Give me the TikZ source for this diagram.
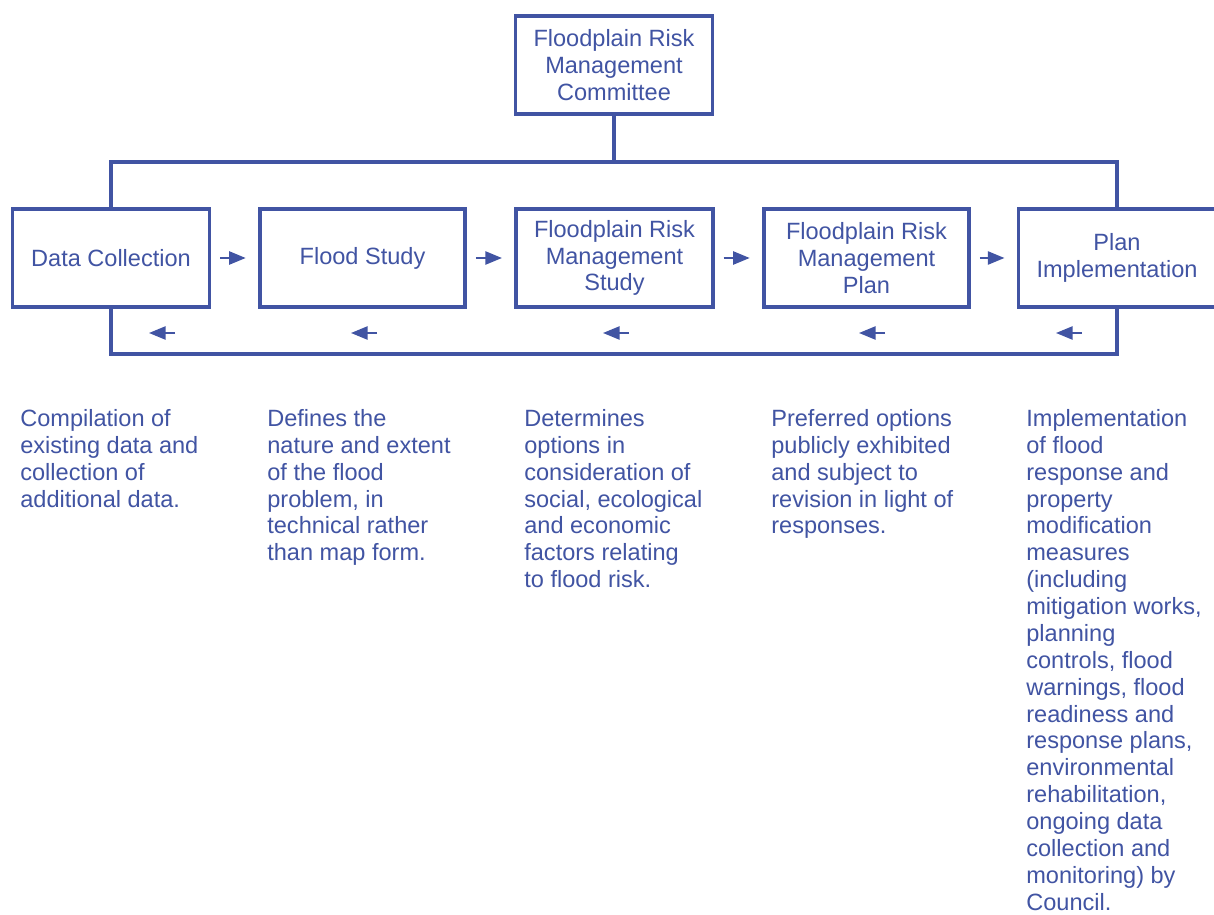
\documentclass[tikz,border=0pt]{standalone}
\usepackage{fontspec}
\setmainfont{Liberation Sans}
\usetikzlibrary{arrows.meta,positioning}
\usetikzlibrary{calc}
\definecolor{fpblue}{RGB}{65,84,163}
\newcommand{\fptext}{\fontsize{13.4}{15.3}\selectfont}

\begin{document}
\begin{tikzpicture}[x=0.02cm,y=-0.02cm,
  box/.style={draw=fpblue,line width=2pt,text=fpblue,align=center,minimum width=3.94cm,minimum height=1.97cm,inner sep=0pt,font=\fptext},
  widebox/.style={box,minimum width=4.11cm},
  desc/.style={anchor=north west,inner sep=0pt,align=left,text=fpblue,font=\fptext},
  link/.style={draw=fpblue,line width=2pt},
  small/.style={draw=fpblue,line width=1.2pt,-{Triangle[length=9.5pt,width=7.5pt]}}]
\useasboundingbox[fill=white] (0,0) rectangle (1214,915);

\node[box] (top) at (614,65) {Floodplain Risk\\Management\\Committee};

\node[box] (b1) at (111,258) {Data Collection};
\node[widebox] (b2) at (362.5,258) {Flood Study};
\node[box] (b3) at (614.5,258) {Floodplain Risk\\Management\\Study};
\node[widebox] (b4) at (866.5,258) {Floodplain Risk\\Management\\Plan};
\node[box] (b5) at (1117,258) {Plan\\Implementation};

\coordinate (bus) at (614,162);
\coordinate (ret) at (614,354);
\draw[link] (top) -- (bus);
\draw[link] (b1.north) |- (bus) -| (b5.north);
\draw[link] (b1.south) |- (ret) -| (b5.south);

% forward steps
\foreach \a/\b in {b1/b2,b2/b3,b3/b4,b4/b5}
  \draw[small,shorten <=5pt,shorten >=7pt] (\a.east) -- (\b.west);
% feedback
\foreach \x in {175,377,629,885,1082}
  \draw[small] (\x,333) -- ++(-26,0);

\node[desc] (d1) at (20,409) {Compilation of\\existing data and\\collection of\\additional data.};
\node[desc] (d2) at (267,409) {Defines the\\nature and extent\\of the flood\\problem, in\\technical rather\\than map form.};
\node[desc] (d3) at (524,409) {Determines\\options in\\consideration of\\social, ecological\\and economic\\factors relating\\to flood risk.};
\node[desc] (d4) at (771,409) {Preferred options\\publicly exhibited\\and subject to\\revision in light of\\responses.};
\node[desc] (d5) at (1026,409) {Implementation\\of flood\\response and\\property\\modification\\measures\\(including\\mitigation works,\\planning\\controls, flood\\warnings, flood\\readiness and\\response plans,\\environmental\\rehabilitation,\\ongoing data\\collection and\\monitoring) by\\Council.};
\end{tikzpicture}
\end{document}
